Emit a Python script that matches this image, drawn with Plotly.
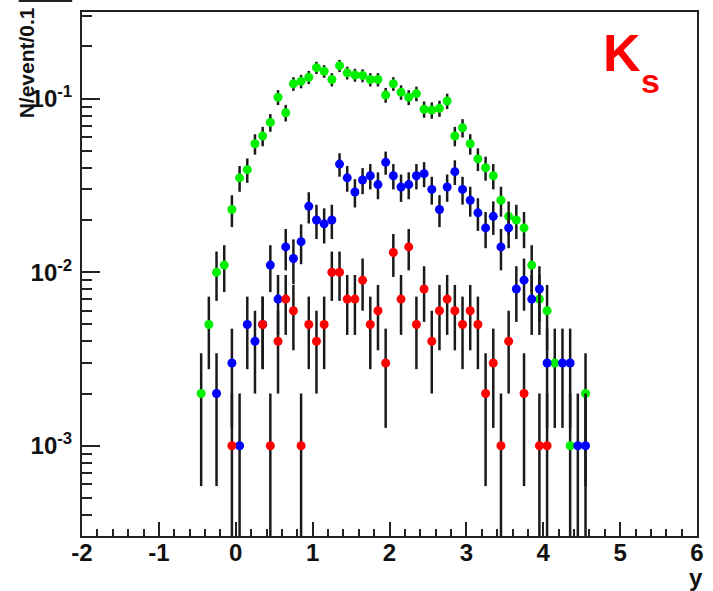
import numpy as np
import plotly.graph_objects as go

# bin centres (rapidity y), bin width 0.1
bin_centers = [-0.45, -0.35, -0.25, -0.15, -0.05, 0.05, 0.15, 0.25, 0.35, 0.45,
               0.55, 0.65, 0.75, 0.85, 0.95, 1.05, 1.15, 1.25, 1.35, 1.45,
               1.55, 1.65, 1.75, 1.85, 1.95, 2.05, 2.15, 2.25, 2.35, 2.45,
               2.55, 2.65, 2.75, 2.85, 2.95, 3.05, 3.15, 3.25, 3.35, 3.45,
               3.55, 3.65, 3.75, 3.85, 3.95, 4.05, 4.15, 4.25, 4.35, 4.45, 4.55]

green_vals = [0.002, 0.005, 0.010, 0.011, 0.023, 0.035, 0.039, 0.055, 0.061, 0.073,
              0.102, 0.083, 0.122, 0.126, 0.133, 0.151, 0.144, 0.129, 0.155, 0.141,
              0.137, 0.136, 0.129, 0.129, 0.105, 0.122, 0.109, 0.102, 0.107, 0.087,
              0.086, 0.088, 0.097, 0.061, 0.068, 0.055, 0.045, 0.040, 0.036, 0.026,
              0.021, 0.020, 0.018, 0.011, 0.007, 0.006, 0.003, 0.0, 0.001, 0.0, 0.002]

blue_vals = [0.0, 0.0, 0.002, 0.0, 0.003, 0.001, 0.005, 0.004, 0.005, 0.011,
             0.007, 0.014, 0.012, 0.015, 0.024, 0.020, 0.019, 0.020, 0.042, 0.035,
             0.029, 0.034, 0.036, 0.032, 0.043, 0.036, 0.031, 0.032, 0.036, 0.037,
             0.030, 0.023, 0.031, 0.038, 0.030, 0.026, 0.022, 0.018, 0.021, 0.014,
             0.018, 0.008, 0.009, 0.007, 0.008, 0.003, 0.0, 0.003, 0.003, 0.001, 0.001]

red_vals = [0.0, 0.0, 0.0, 0.0, 0.001, 0.0, 0.0, 0.0, 0.005, 0.001,
            0.004, 0.007, 0.006, 0.001, 0.005, 0.004, 0.005, 0.010, 0.010, 0.007,
            0.007, 0.009, 0.005, 0.006, 0.003, 0.013, 0.007, 0.014, 0.005, 0.008,
            0.004, 0.006, 0.007, 0.006, 0.005, 0.006, 0.005, 0.002, 0.003, 0.001,
            0.004, 0.0, 0.002, 0.0, 0.001, 0.001, 0.0, 0.0, 0.0, 0.0, 0.0]

# weight of one entry (N/event/0.1) -> Poisson errors
entry_weight = 0.001

y_tick_vals = [1e-3, 1e-2, 1e-1]
y_tick_text = ["10<sup>-3</sup>", "10<sup>-2</sup>", "10<sup>-1</sup>"]
x_tick_vals = [-2, -1, 0, 1, 2, 3, 4, 5, 6]
x_tick_text = ["-2", "-1", "0", "1", "2", "3", "4", "5", "6"]

series = [("green", green_vals, "#00f000"),
          ("blue", blue_vals, "#0000ff"),
          ("red", red_vals, "#ff0000")]

fig = go.Figure()
for name, vals, col in series:
    x = np.array(bin_centers)
    v = np.array(vals)
    m = v > 0
    err = np.sqrt(v[m] * entry_weight)
    fig.add_trace(go.Scatter(
        x=x[m], y=v[m], mode="markers", name=name,
        marker=dict(color=col, size=9, symbol="circle"),
        error_y=dict(type="data", array=err, arrayminus=err, symmetric=False,
                     color="#1a1a1a", thickness=2.5, width=0),
        showlegend=False))

minor_y = []
for d in [1e-4, 1e-3, 1e-2, 1e-1]:
    for k in range(2, 10):
        val = k * d
        if 3.0e-4 <= val <= 0.32:
            minor_y.append(val)

FONT = "Liberation Sans"
fig.update_layout(
    width=713, height=591,
    margin=dict(l=82, r=9, t=12, b=55),
    paper_bgcolor="white", plot_bgcolor="white",
    font=dict(family=FONT, size=24, color="#111111", weight="bold"),
    xaxis=dict(range=[-2, 6], tickvals=x_tick_vals, ticktext=x_tick_text,
               ticks="inside", ticklen=14, ticklabelstandoff=-6,
               tickwidth=2, tickcolor="#222", showline=True, linecolor="#222",
               linewidth=2, mirror=True, showgrid=False, zeroline=False,
               tickfont=dict(family=FONT, size=24, weight="bold"),
               minor=dict(dtick=0.2, ticks="inside", ticklen=7, tickwidth=2,
                          tickcolor="#222", showgrid=False)),
    yaxis=dict(type="log", range=[np.log10(3.02e-4), np.log10(0.316)],
               tickvals=y_tick_vals, ticktext=y_tick_text, ticks="inside",
               ticklen=18, tickwidth=2, tickcolor="#222", showline=True,
               ticklabelstandoff=3,
               linecolor="#222", linewidth=2, mirror=True, showgrid=False,
               zeroline=False, tickfont=dict(family=FONT, size=24, weight="bold"),
               minor=dict(tickvals=minor_y, ticks="inside", ticklen=10,
                          tickwidth=2, tickcolor="#222", showgrid=False)),
    annotations=[
        dict(text="N/event/0.1", xref="paper", yref="paper", x=-0.090, y=1.013,
             xanchor="center", yanchor="top", textangle=-90, showarrow=False,
             font=dict(family=FONT, size=21, color="#111", weight="bold")),
        dict(text="y", xref="paper", yref="paper", x=0.9985, y=-0.080,
             xanchor="center", yanchor="middle", showarrow=False,
             font=dict(family=FONT, size=24, color="#111", weight="bold")),
        dict(text="K", xref="paper", yref="paper", x=0.844, y=0.922,
             xanchor="left", yanchor="middle", showarrow=False,
             font=dict(family=FONT, size=52, color="#ff0000", weight="bold")),
        dict(text="s", xref="paper", yref="paper", x=0.906, y=0.868,
             xanchor="left", yanchor="middle", showarrow=False,
             font=dict(family=FONT, size=34, color="#ff0000", weight="bold")),
    ],
    shapes=[dict(type="line", xref="paper", yref="paper", x0=-0.103, x1=-0.016,
                 y0=1.021, y1=1.021, line=dict(color="#222", width=2))],
)

fig.write_html("out.html")
